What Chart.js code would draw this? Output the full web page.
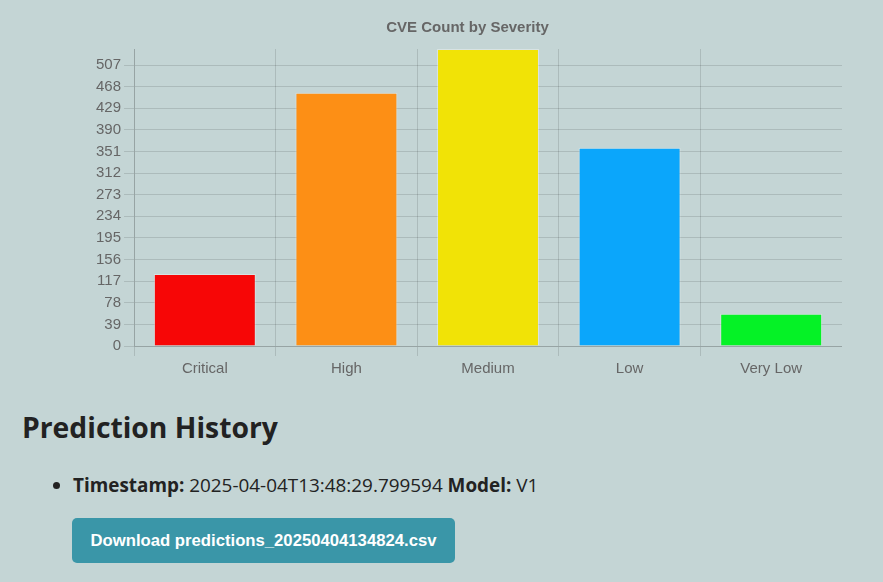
<!DOCTYPE html>
<html>
<head>
<meta charset="utf-8">
<script src="https://cdn.jsdelivr.net/npm/chart.js@4.4.1/dist/chart.umd.min.js"></script>
<style>
  html, body { margin: 0; padding: 0; }
  body {
    background: #c4d5d5;
    font-family: "Open Sans", sans-serif;
    color: #222;
    width: 883px;
    height: 582px;
    overflow: hidden;
    position: relative;
  }
  #chart-box {
    position: absolute;
    left: 93px;
    top: 11px;
    width: 749px;
    height: 371px;
  }
  h2 {
    position: absolute;
    left: 22px;
    top: 408px;
    margin: 0;
    font-size: 28.3px;
    font-weight: 700;
  }
  ul {
    position: absolute;
    left: 0;
    top: 472px;
    margin: 0;
    padding-left: 73px;
    font-size: 18.9px;
  }
  .btn {
    position: absolute;
    left: 72px;
    top: 518px;
    width: 383px;
    height: 45px;
    background: #3a96a8;
    color: #fff;
    border-radius: 5px;
    font: bold 16.7px Arial, "Liberation Sans", sans-serif;
    line-height: 45px;
    text-align: center;
  }
</style>
</head>
<body>
<div id="chart-box"><canvas id="severity-chart"></canvas></div>

<h2>Prediction History</h2>
<ul>
  <li><b>Timestamp:</b> 2025-04-04T13:48:29.799594 <b>Model:</b> V1</li>
</ul>
<div class="btn">Download predictions_20250404134824.csv</div>

<script>
// ── Data ─────────────────────────────────────────────────

const severities = ["Critical", "High", "Medium", "Low", "Very Low"];
const cveCounts  = [130, 457, 536, 358, 58];
const barColors  = ["#f70606", "#fd8f15", "#f1e306", "#0ba6fb", "#05f226"];
const tickStep   = 39;

// ── Chart ────────────────────────────────────────────────

Chart.defaults.font.family = "Arial, 'Liberation Sans', sans-serif";
Chart.defaults.font.size = 15;
Chart.defaults.color = "#666";

const gridColor = "rgba(0,0,0,0.12)";
const topValue = Math.max(...cveCounts);

new Chart(document.getElementById("severity-chart"), {
  type: "bar",
  data: {
    labels: severities,
    datasets: [{
      label: "CVE Count",
      data: cveCounts,
      backgroundColor: barColors,
      borderColor: "rgba(255,255,255,0.35)",
      borderWidth: 1
    }]
  },
  options: {
    responsive: true,
    maintainAspectRatio: false,
    animation: false,
    plugins: {
      legend: { display: false },
      title: {
        display: true,
        text: "CVE Count by Severity",
        padding: { top: 8, bottom: 12 },
        font: { size: 15, weight: "bold" }
      }
    },
    scales: {
      x: {
        ticks: { padding: 4 },
        grid: { color: gridColor, tickLength: 10 },
        border: { color: gridColor }
      },
      y: {
        min: 0,
        max: topValue,
        // only multiples of the step get a tick, the top edge stays bare
        afterBuildTicks: (axis) => {
          const ticks = [];
          for (let v = 0; v <= topValue; v += tickStep) ticks.push({ value: v });
          axis.ticks = ticks;
        },
        grid: { color: gridColor, tickLength: 10 },
        border: { color: gridColor }
      }
    }
  }
});
</script>
</body>
</html>
